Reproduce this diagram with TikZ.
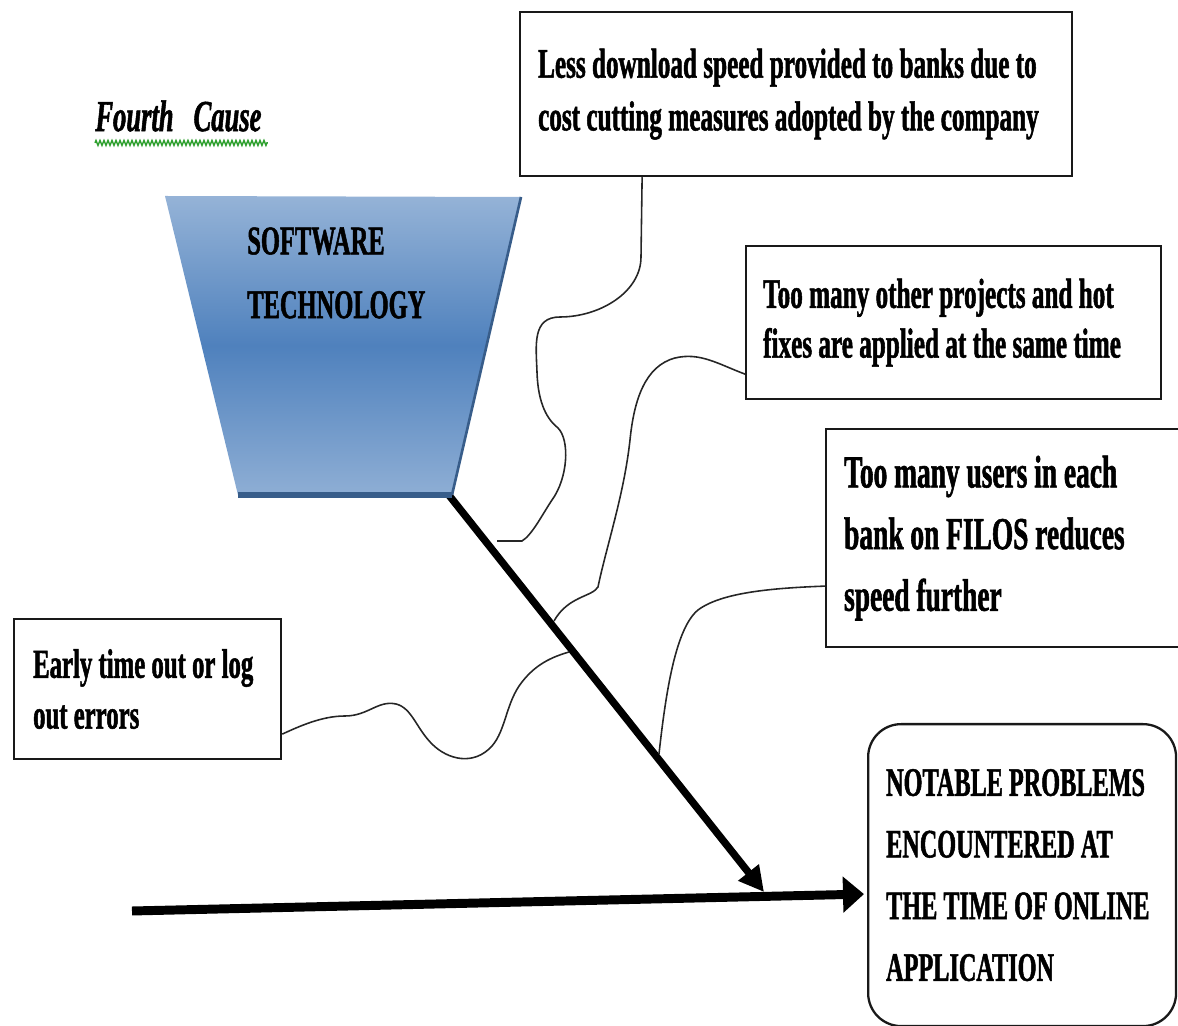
\documentclass[tikz,border=0pt]{standalone}
\usepackage{fontspec}
\newfontfamily\narrowfont[FakeStretch=0.6,
  BoldFeatures={FakeBold=1.2}, BoldItalicFeatures={FakeBold=1.2}]{Liberation Serif}
\newcommand\causefont[2]{\narrowfont\bfseries\fontsize{#1}{#2}\selectfont}
\usepackage{xcolor}
\definecolor{stblue}{HTML}{4F81BD}
\definecolor{stlight}{HTML}{95B3D7}
\definecolor{stdark}{HTML}{385D8A}
\definecolor{wavegreen}{RGB}{46,160,46}
\usetikzlibrary{arrows.meta, positioning, calc, decorations.pathmorphing}

\tikzset{
  causebox/.style={draw=black!90, line width=1.3pt, fill=white, align=left,
                   anchor=north west, inner xsep=0.36cm,
                   execute at begin node={\spaceskip=0.15em\relax}},
  wire/.style={black!85, line width=0.9pt},
  spine/.style={line width=5.1pt, -{Triangle[length=0.42cm,width=0.7cm]}},
  bone/.style={line width=4.2pt, -{Triangle[length=0.5cm,width=0.5cm]}},
}

\begin{document}
\begin{tikzpicture}[x=0.02cm, y=-0.02cm]

  \useasboundingbox (0,0) rectangle (1178,1026);

  % Heading
  \node[anchor=north west, inner sep=0,
        font=\causefont{25.2}{30}\itshape]
        (fourth) at (95,100) {Fourth\hspace{0.4cm}Cause};
  \draw[wavegreen, line width=0.8pt, decorate,
        decoration={zigzag, amplitude=0.05cm, segment length=0.08cm}]
        ([yshift=-0.22cm]fourth.south west) -- ([yshift=-0.22cm,xshift=0.12cm]fourth.south east);

  % Diagonal bone (under the trapezoid)
  \coordinate (bonestart) at (448,494);
  \coordinate (bonetip) at (764,892);
  \draw[bone] (bonestart) -- (bonetip);

  % Category trapezoid
  \coordinate (tl) at (165,196);
  \coordinate (tr) at (521,197);
  \coordinate (br) at (452,495);
  \coordinate (bl) at (238,495);
  \shade[top color=stlight, bottom color=stlight!90!stblue, middle color=stblue]
        (tl) -- (tr) -- (br) -- (bl) -- cycle;
  \draw[stdark, line width=1.5pt] (tr) -- (br);
  \draw[stdark, line width=3pt] (bl) -- (br);

  \node[anchor=north west, inner sep=0, align=left, font=\causefont{23.2}{36.3}]
        (techtxt) at (247,227) {SOFTWARE\\TECHNOLOGY};

  % Cause boxes
  \node[causebox, text width=10.32cm, minimum height=3.28cm, font=\causefont{23.9}{30}]
        (speed) at (519,11) {Less download speed provided to banks due to\\cost cutting measures adopted by the company\\[0.25cm]};

  \node[causebox, inner xsep=0.34cm, text width=7.62cm, minimum height=3.06cm,
        font=\causefont{23.9}{28.3}]
        (hotfix) at (745,245) {Too many other projects and hot\\fixes are applied at the same time\\[0.15cm]};

  \node[causebox, text width=6.78cm, minimum height=4.36cm, font=\causefont{26}{35.1}]
        (users) at (825,428) {Too many users in each\\bank on FILOS reduces\\speed further};

  \node[causebox, inner xsep=0.38cm, text width=4.58cm, minimum height=2.8cm,
        font=\causefont{23.5}{28.9}]
        (early) at (13,618) {Early time out or log\\out errors};

  % Effect box
  \node[causebox, rounded corners=0.66cm, text width=5.44cm, minimum height=6.04cm,
        font=\causefont{23}{35.1}]
        (problem) at (867,723) {NOTABLE PROBLEMS\\ENCOUNTERED AT\\THE TIME OF ONLINE\\APPLICATION};

  % Spine
  \coordinate (tail) at (132,911);
  \draw[spine] (tail) -- ($(problem.west)+(-3,19)$);

  % Connectors to the bone
  \coordinate (j1) at (497,541);
  \coordinate (j2) at (554,621);
  \coordinate (j3) at (569,652);
  \coordinate (j4) at (659,754);

  \draw[wire] ([xshift=-3.08cm]speed.south) -- (641,257)
    .. controls (641,292) and (600,317) .. (560,317)
    .. controls (532,317) and (536,345) .. (537,372)
    .. controls (538,405) and (548,420) .. (558,428)
    .. controls (570,440) and (568,478) .. (552,500)
    .. controls (542,515) and (532,535) .. (522,541)
    -- (j1);

  \draw[wire] ([yshift=-1.03cm]hotfix.west)
    .. controls (718,364) and (700,352) .. (675,358)
    .. controls (645,366) and (634,400) .. (630,440)
    .. controls (624,495) and (606,548) .. (598,587)
    .. controls (592,597) and (568,596) .. (j2);

  \draw[wire] ([yshift=-0.9cm]early.east)
    .. controls (300,726) and (322,716) .. (345,716)
    .. controls (368,716) and (378,700) .. (396,704)
    .. controls (412,708) and (416,728) .. (432,744)
    .. controls (448,760) and (474,766) .. (492,746)
    .. controls (506,730) and (506,702) .. (522,682)
    .. controls (536,664) and (552,657) .. (j3);

  \draw[wire] ([yshift=-0.96cm]users.west)
    .. controls (775,588) and (722,592) .. (698,610)
    .. controls (676,628) and (666,690) .. (j4);

\end{tikzpicture}
\end{document}
